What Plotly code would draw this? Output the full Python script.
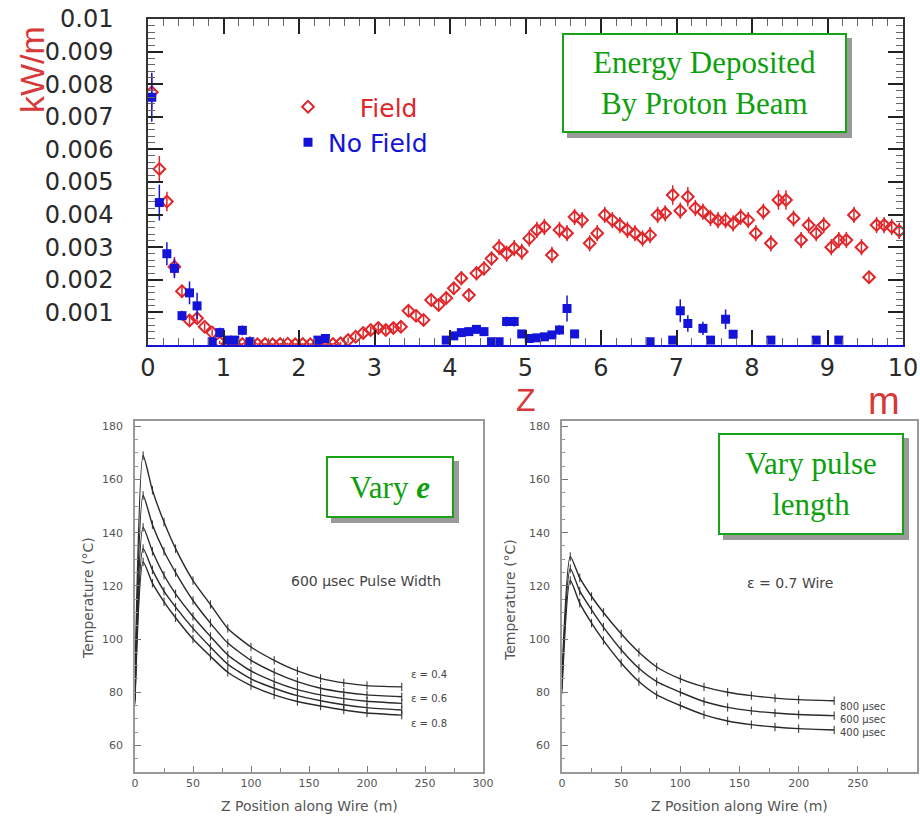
import plotly.graph_objects as go

# ---------------- data: top panel (values in units of 0.001 kW/m) ----------------
field_z = [0.05, 0.15, 0.25, 0.35, 0.45, 0.55, 0.65, 0.75, 0.85, 0.95,
           1.05, 1.15, 1.25, 1.35, 1.45, 1.55, 1.65, 1.75, 1.85, 1.95,
           2.05, 2.15, 2.25, 2.35, 2.45, 2.55, 2.65, 2.75, 2.85, 2.95,
           3.05, 3.15, 3.25, 3.35, 3.45, 3.55, 3.65, 3.75, 3.85, 3.95,
           4.05, 4.15, 4.25, 4.35, 4.45, 4.55, 4.65, 4.75, 4.85, 4.95,
           5.05, 5.15, 5.25, 5.35, 5.45, 5.55, 5.65, 5.75, 5.85, 5.95,
           6.05, 6.15, 6.25, 6.35, 6.45, 6.55, 6.65, 6.75, 6.85, 6.95,
           7.05, 7.15, 7.25, 7.35, 7.45, 7.55, 7.65, 7.75, 7.85, 7.95,
           8.05, 8.15, 8.25, 8.35, 8.45, 8.55, 8.65, 8.75, 8.85, 8.95,
           9.05, 9.15, 9.25, 9.35, 9.45, 9.55, 9.65, 9.75, 9.85, 9.95]
field_val = [7.75, 5.4, 4.4, 2.4, 1.65, 0.75, 0.82, 0.56, 0.38, 0.08,
             0.03, 0.02, 0.03, 0.05, 0.02, 0.03, 0.02, 0.03, 0.04, 0.02,
             0.03, 0.02, 0.03, 0.02, 0.03, 0.05, 0.15, 0.25, 0.37, 0.46,
             0.52, 0.46, 0.52, 0.56, 1.05, 0.9, 0.77, 1.38, 1.23, 1.44,
             1.74, 2.05, 1.53, 2.2, 2.35, 2.65, 3.0, 2.8, 2.97, 2.86,
             3.27, 3.53, 3.62, 2.76, 3.53, 3.43, 3.93, 3.83, 3.12, 3.43,
             3.99, 3.83, 3.68, 3.53, 3.43, 3.27, 3.37, 3.99, 4.04, 4.6,
             4.12, 4.55, 4.2, 4.09, 3.9, 3.83, 3.83, 3.73, 3.93, 3.83,
             3.43, 4.09, 3.12, 4.45, 4.45, 3.88, 3.22, 3.68, 3.43, 3.68,
             3.0, 3.22, 3.22, 3.99, 3.0, 2.08, 3.68, 3.68, 3.62, 3.5]
field_err = [0.5, 0.4, 0.3, 0.3, 0.2, 0.15, 0.15, 0.12, 0.1, 0.05,
             0.03, 0.03, 0.03, 0.03, 0.03, 0.03, 0.03, 0.03, 0.03, 0.03,
             0.03, 0.03, 0.03, 0.03, 0.03, 0.05, 0.08, 0.1, 0.12, 0.12,
             0.15, 0.15, 0.15, 0.15, 0.18, 0.18, 0.18, 0.2, 0.2, 0.2,
             0.2, 0.22, 0.2, 0.22, 0.22, 0.22, 0.25, 0.25, 0.25, 0.25,
             0.25, 0.25, 0.25, 0.25, 0.25, 0.25, 0.25, 0.25, 0.25, 0.25,
             0.25, 0.25, 0.25, 0.25, 0.25, 0.25, 0.25, 0.25, 0.25, 0.3,
             0.25, 0.3, 0.25, 0.25, 0.25, 0.25, 0.25, 0.25, 0.25, 0.25,
             0.25, 0.25, 0.25, 0.3, 0.3, 0.25, 0.25, 0.25, 0.25, 0.25,
             0.25, 0.25, 0.25, 0.25, 0.25, 0.2, 0.25, 0.25, 0.25, 0.25]

nofield_z = [0.05, 0.15, 0.25, 0.35, 0.45, 0.55, 0.65, 0.85, 0.95, 1.05,
             1.15, 1.25, 1.35, 2.25, 2.35, 3.95, 4.05, 4.15, 4.25, 4.35,
             4.45, 4.55, 4.65, 4.75, 4.85, 4.95, 5.05, 5.15, 5.25, 5.35,
             5.45, 5.55, 5.65, 6.65, 6.95, 7.05, 7.15, 7.35, 7.45, 7.65,
             7.75, 8.25, 8.85, 9.15]
nofield_val = [7.6, 4.37, 2.8, 2.35, 0.9, 1.6, 1.2, 0.1, 0.38, 0.15,
               0.15, 0.45, 0.1, 0.15, 0.2, 0.15, 0.28, 0.38, 0.41, 0.48,
               0.41, 0.1, 0.1, 0.72, 0.72, 0.34, 0.2, 0.22, 0.25, 0.31,
               0.46, 1.12, 0.34, 0.1, 0.15, 1.05, 0.66, 0.51, 0.15, 0.79,
               0.33, 0.15, 0.15, 0.15]
nofield_err = [0.75, 0.55, 0.35, 0.3, 0.15, 0.35, 0.4, 0.08, 0.15, 0.1,
               0.1, 0.15, 0.08, 0.1, 0.1, 0.1, 0.12, 0.12, 0.12, 0.12,
               0.12, 0.08, 0.08, 0.15, 0.15, 0.12, 0.1, 0.1, 0.1, 0.12,
               0.15, 0.4, 0.12, 0.08, 0.1, 0.35, 0.25, 0.2, 0.1, 0.3,
               0.12, 0.1, 0.1, 0.1]
bin_half = 0.05

top_x_ticks = [0, 1, 2, 3, 4, 5, 6, 7, 8, 9, 10]
top_y_tickvals = [1, 2, 3, 4, 5, 6, 7, 8, 9, 10]
top_y_ticktext = ["0.001", "0.002", "0.003", "0.004", "0.005",
                  "0.006", "0.007", "0.008", "0.009", "0.01"]

# ---------------- data: bottom panels (temperature, deg C) ----------------
wire_z = [0, 7, 15, 25, 35, 50, 65, 80, 100, 120, 140, 160, 180, 200, 230]

eps_labels = ["\u03b5 = 0.4", "\u03b5 = 0.5", "\u03b5 = 0.6", "\u03b5 = 0.7", "\u03b5 = 0.8"]
temp_eps04 = [82, 169, 156, 144, 134, 122, 113, 104, 97, 92, 88, 85.2, 83.5, 82.5, 82]
temp_eps05 = [80, 154, 143, 133, 125, 114.5, 106, 98.5, 92, 87.5, 84, 81.5, 80, 79, 78.3]
temp_eps06 = [79, 142, 133, 124, 117, 108.5, 101, 94, 88, 84, 81, 79, 77.6, 76.6, 75.8]
temp_eps07 = [78, 134, 126, 118, 112, 104, 97, 90.5, 85, 81.5, 78.7, 76.8, 75.3, 74.2, 73.3]
temp_eps08 = [77, 129, 121, 114, 108, 100, 93.5, 87.5, 82.5, 79, 76.5, 74.8, 73.3, 72.2, 71.4]

pulse_labels = ["800 \u00b5sec", "600 \u00b5sec", "400 \u00b5sec"]
temp_p800 = [85, 131, 123, 116, 110, 102, 95, 89.5, 85, 82, 80, 78.7, 77.8, 77.2, 76.8]
temp_p600 = [83, 126.5, 118, 111, 104.5, 96, 89, 84, 80, 76.5, 74.3, 73, 72.2, 71.6, 71.2]
temp_p400 = [81, 122, 113.5, 106, 99.5, 91, 84, 79, 75, 71.5, 69.2, 67.8, 66.9, 66.3, 65.8]

wire_x_ticks = [0, 50, 100, 150, 200, 250, 300]
wire_y_ticks = [60, 80, 100, 120, 140, 160, 180]

# ---------------- styling ----------------
W, H = 920, 819
RED = "#e0262a"
BLUE = "#1414d8"
GREEN = "#0da00d"
AXIS_RED = "#d9383a"
GREY_TXT = "#555555"


def px(v):
    return v / W


def py(v):
    return 1 - v / H


fig = go.Figure()

fig.add_trace(go.Scatter(
    x=field_z, y=field_val, mode="markers",
    name="<span style='color:%s'>\u00a0\u00a0\u00a0\u00a0Field</span>" % RED,
    marker=dict(symbol="diamond-open", size=9, color=RED, line=dict(width=2, color=RED)),
    error_y=dict(type="data", array=field_err, color=RED, thickness=1.5, width=0),
    xaxis="x", yaxis="y"))

fig.add_trace(go.Scatter(
    x=nofield_z, y=nofield_val, mode="markers",
    name="<span style='color:%s'>No Field</span>" % BLUE,
    marker=dict(symbol="square", size=9, color=BLUE),
    error_y=dict(type="data", array=nofield_err, color=BLUE, thickness=1.5, width=0),
    error_x=dict(type="constant", value=bin_half, color=BLUE, thickness=2, width=0),
    xaxis="x", yaxis="y"))

# empty trace to host the top mirrored axis
fig.add_trace(go.Scatter(x=[], y=[], xaxis="x2", yaxis="y", showlegend=False))

curve_style = dict(mode="lines+markers", showlegend=False,
                   line=dict(color="#2a2a2a", width=1.4, shape="spline", smoothing=0.6),
                   marker=dict(symbol="line-ns", size=6, line=dict(width=1, color="#2a2a2a")))

for t in [temp_eps04, temp_eps05, temp_eps06, temp_eps07, temp_eps08]:
    fig.add_trace(go.Scatter(x=wire_z, y=t, xaxis="x3", yaxis="y3", **curve_style))
for t in [temp_p800, temp_p600, temp_p400]:
    fig.add_trace(go.Scatter(x=wire_z, y=t, xaxis="x4", yaxis="y4", **curve_style))

# ---------------- axes ----------------
top_dom_x = [px(148), px(903)]
top_dom_y = [py(345), py(19)]
bl_dom_x = [px(135), px(483)]
br_dom_x = [px(562), px(917)]
bot_dom_y = [py(772), py(421)]

tick_font_top = dict(family="DejaVu Sans", size=24, color="#2a2a2a")
tick_font_bot = dict(family="DejaVu Sans", size=11, color=GREY_TXT)

fig.update_layout(
    width=W, height=H, margin=dict(l=0, r=0, t=0, b=0, autoexpand=False),
    paper_bgcolor="white", plot_bgcolor="white",
    showlegend=True,
    legend=dict(x=px(288), y=py(84), xanchor="left", yanchor="top",
                font=dict(family="DejaVu Sans", size=25),
                bgcolor="rgba(0,0,0,0)", tracegroupgap=0, itemwidth=30),
    xaxis=dict(domain=top_dom_x, anchor="y", range=[0, 10], tickvals=top_x_ticks,
               ticks="inside", ticklen=15, tickwidth=1.5, tickcolor="#222",
               minor=dict(ticks="inside", ticklen=7, dtick=0.2, tickcolor="#666", tickwidth=1),
               showline=True, linecolor=BLUE, linewidth=2, mirror=False,
               showgrid=False, zeroline=False, tickfont=tick_font_top, automargin=False),
    xaxis2=dict(overlaying="x", side="top", anchor="y", range=[0, 10], tickvals=top_x_ticks,
                ticks="inside", ticklen=15, tickwidth=1.5, tickcolor="#222",
                minor=dict(ticks="inside", ticklen=7, dtick=0.2, tickcolor="#666", tickwidth=1),
                showline=True, linecolor="#333", linewidth=1.5,
                showticklabels=False, showgrid=False, zeroline=False, automargin=False),
    yaxis=dict(domain=top_dom_y, anchor="x", range=[0, 10],
               tickvals=top_y_tickvals, ticktext=top_y_ticktext,
               ticks="inside", ticklen=15, tickwidth=2, tickcolor="#222",
               minor=dict(ticks="inside", ticklen=7, dtick=0.2, tickcolor="#666", tickwidth=1),
               showline=True, linecolor="#333", linewidth=1.5, mirror="ticks",
               showgrid=False, zeroline=False, tickfont=tick_font_top,
               ticklabelstandoff=28, automargin=False),
    xaxis3=dict(domain=bl_dom_x, anchor="y3", range=[0, 300], tickvals=wire_x_ticks,
                ticks="inside", ticklen=6, tickcolor="#777",
                minor=dict(ticks="inside", ticklen=4, dtick=25, tickcolor="#888"),
                showline=True, linecolor="#999", linewidth=1.5, mirror=True,
                showgrid=False, zeroline=False, tickfont=tick_font_bot, automargin=False),
    yaxis3=dict(domain=bot_dom_y, anchor="x3", range=[50, 182], tickvals=wire_y_ticks,
                ticks="inside", ticklen=6, tickcolor="#777",
                minor=dict(ticks="inside", ticklen=3, dtick=5, tickcolor="#999"),
                showline=True, linecolor="#999", linewidth=1.5, mirror=True,
                showgrid=False, zeroline=False, tickfont=tick_font_bot,
                ticklabelstandoff=8, automargin=False),
    xaxis4=dict(domain=br_dom_x, anchor="y4", range=[0, 300], tickvals=wire_x_ticks,
                ticks="inside", ticklen=6, tickcolor="#777",
                minor=dict(ticks="inside", ticklen=4, dtick=25, tickcolor="#888"),
                showline=True, linecolor="#999", linewidth=1.5, mirror=True,
                showgrid=False, zeroline=False, tickfont=tick_font_bot, automargin=False),
    yaxis4=dict(domain=bot_dom_y, anchor="x4", range=[50, 182], tickvals=wire_y_ticks,
                ticks="inside", ticklen=6, tickcolor="#777",
                minor=dict(ticks="inside", ticklen=3, dtick=5, tickcolor="#999"),
                showline=True, linecolor="#999", linewidth=1.5, mirror=True,
                showgrid=False, zeroline=False, tickfont=tick_font_bot,
                ticklabelstandoff=8, automargin=False),
)

ann = []
CENTER = dict(xanchor="center", yanchor="middle", showarrow=False)
# top axis titles
ann.append(dict(text="kW/m", x=px(32), y=py(70), xref="paper", yref="paper",
                textangle=-90, font=dict(family="Liberation Sans", size=34, color=AXIS_RED),
                **CENTER))
ann.append(dict(text="Z", x=px(526), y=py(400), xref="paper", yref="paper",
                font=dict(family="Liberation Sans", size=32, color=AXIS_RED), **CENTER))
ann.append(dict(text="m", x=px(884), y=py(401), xref="paper", yref="paper",
                font=dict(family="Liberation Sans", size=38, color=AXIS_RED), **CENTER))


def boxed(text, cx, cy, w, h, size):
    common = dict(x=px(cx), y=py(cy), xref="paper", yref="paper",
                  width=w, height=h, borderpad=0, borderwidth=2, align="center", **CENTER)
    # drop shadow (blank box)
    ann.append(dict(text="\u00a0", xshift=5, yshift=-5, bgcolor="#9a9a9a", bordercolor="#9a9a9a",
                    font=dict(family="Liberation Serif", size=size, color="#9a9a9a"), **common))
    ann.append(dict(text=text, bgcolor="white", bordercolor="#19a319",
                    font=dict(family="Liberation Serif", size=size, color=GREEN), **common))


boxed("Energy Deposited<br>By Proton Beam", 704, 83, 281, 96, 31)
boxed("Vary <b><i>e</i></b>", 390, 487, 124, 58, 31)
boxed("Vary pulse<br>length", 811, 484, 182, 98, 31)

# bottom panel texts
small = dict(family="DejaVu Sans", size=14, color="#444")
ann.append(dict(text="600 \u00b5sec Pulse Width", x=199, y=122, xref="x3", yref="y3",
                font=small, **CENTER))
ann.append(dict(text="\u03b5 = 0.7 Wire", x=193, y=121, xref="x4", yref="y4",
                font=small, **CENTER))

lab = dict(family="DejaVu Sans", size=10, color="#444")
for text, yv in zip([eps_labels[0], eps_labels[2], eps_labels[4]], [86.5, 77.8, 68.4]):
    ann.append(dict(text=text, x=236, y=yv, xref="x3", yref="y3", xanchor="left",
                    yanchor="middle", showarrow=False, font=lab))
for text, yv in zip(pulse_labels, [74.5, 69.9, 64.7]):
    ann.append(dict(text=text, x=233, y=yv, xref="x4", yref="y4", xanchor="left",
                    yanchor="middle", showarrow=False, font=lab))

title_font = dict(family="DejaVu Sans", size=14, color=GREY_TXT)
ann.append(dict(text="Z Position along Wire (m)", x=px(309), y=py(806), xref="paper", yref="paper",
                font=title_font, **CENTER))
ann.append(dict(text="Z Position along Wire (m)", x=px(739), y=py(806), xref="paper", yref="paper",
                font=title_font, **CENTER))
ann.append(dict(text="Temperature (\u00b0C)", x=px(88), y=py(598), xref="paper", yref="paper",
                textangle=-90, font=title_font, **CENTER))
ann.append(dict(text="Temperature (\u00b0C)", x=px(510), y=py(600), xref="paper", yref="paper",
                textangle=-90, font=title_font, **CENTER))

fig.update_layout(annotations=ann)

fig.write_html("out.html")
